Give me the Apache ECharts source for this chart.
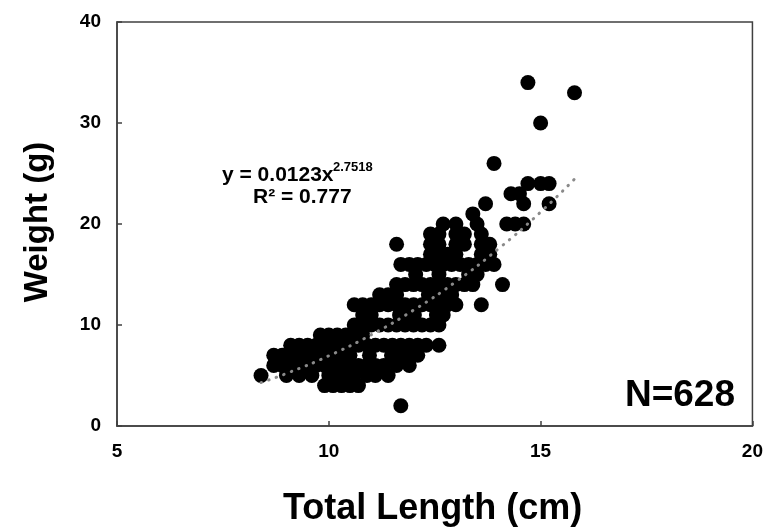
<!DOCTYPE html>
<html><head><meta charset="utf-8">
<script src="https://cdn.jsdelivr.net/npm/echarts@6/dist/echarts.min.js"></script>
<style>html,body{margin:0;padding:0;background:#fff}#c{width:766px;height:532px}</style>
</head><body><div id="c"></div>
<script>
// Lengths (cm) observed at each weight (g)
const w2 = [11.7];
const w4 = [9.9, 10.1, 10.3, 10.5, 10.7];
const w5 = [8.4, 9.0, 9.3, 9.6, 10.0, 10.3, 10.6, 10.9, 11.1, 11.4];
const w6 = [8.7, 8.9, 9.1, 9.3, 9.5, 9.7, 9.9, 10.1, 10.3, 10.5, 10.7, 10.9, 11.1, 11.3, 11.6, 11.9];
const w7 = [8.7, 8.9, 9.1, 9.3, 9.5, 9.7, 9.9, 10.1, 10.3, 10.5, 10.96, 11.48, 11.7, 11.9, 12.1];
const w8 = [9.1, 9.3, 9.5, 9.7, 9.9, 10.1, 10.3, 10.5, 10.7, 10.9, 11.1, 11.3, 11.5, 11.7, 11.9, 12.1, 12.3, 12.6];
const w9 = [9.8, 10.0, 10.2, 10.4, 10.6, 10.8];
const w10 = [10.6, 10.8, 11.0, 11.2, 11.4, 11.6, 11.8, 12.0, 12.2, 12.4, 12.6];
const w11 = [10.8, 11.0, 11.67, 11.85, 12.02, 12.54, 12.7];
const w12 = [10.6, 10.8, 11.0, 11.2, 11.4, 11.6, 11.8, 12.0, 12.2, 12.4, 12.6, 12.8, 13.0, 13.6];
const w13 = [11.2, 11.4, 11.6, 12.35, 12.6, 12.9];
const w14 = [11.6, 11.8, 12.0, 12.2, 12.4, 12.6, 12.8, 13.0, 13.2, 13.4, 14.1];
const w15 = [12.05, 12.6, 13.3, 13.5];
const w16 = [11.7, 11.9, 12.1, 12.3, 12.5, 12.7, 12.9, 13.1, 13.3, 13.5, 13.7, 13.9];
const w17 = [12.4, 12.6, 12.8, 13.0, 13.6, 13.8];
const w18 = [11.6, 12.4, 12.6, 13.0, 13.2, 13.6, 13.8];
const w19 = [12.4, 12.6, 13.0, 13.2, 13.6];
const w20 = [12.7, 13.0, 13.5, 14.2, 14.4, 14.6];
const w21 = [13.4];
const w22 = [13.7, 14.6, 15.2];
const w23 = [14.3, 14.5];
const w24 = [14.7, 15.0, 15.2];
const w26 = [13.9];
const w30 = [15.0];
const w33 = [15.8];
const w34 = [14.7];

// Power trend line (y = 0.0123x^2.7518)
const trendX = [8.4, 9, 10, 11, 12, 13, 14, 15, 15.8];
const trendY = [4.30, 5.20, 6.95, 9.03, 11.47, 14.29, 17.53, 21.18, 24.45];

const xTicks = [5, 10, 15, 20];
const yTicks = [0, 10, 20, 30, 40];

const groups = [[2,w2],[4,w4],[5,w5],[6,w6],[7,w7],[8,w8],[9,w9],[10,w10],[11,w11],[12,w12],
  [13,w13],[14,w14],[15,w15],[16,w16],[17,w17],[18,w18],[19,w19],[20,w20],[21,w21],[22,w22],
  [23,w23],[24,w24],[26,w26],[30,w30],[33,w33],[34,w34]];
const pts = [];
groups.forEach(([w, xs]) => xs.forEach(x => pts.push([x, w])));
const trend = trendX.map((x, i) => [x, trendY[i]]);

const FF = '"Liberation Sans", Arial, sans-serif';
const chart = echarts.init(document.getElementById('c'), null, {renderer: 'canvas'});
chart.setOption({
  animation: false,
  backgroundColor: '#fff',
  grid: {left: 117, right: 13, top: 22, bottom: 106, show: true, borderColor: '#404040', borderWidth: 1.5},
  xAxis: {
    type: 'value', min: xTicks[0], max: xTicks[xTicks.length-1], interval: 5,
    axisLine: {show: true, lineStyle: {color: '#404040', width: 1.5}},
    axisTick: {show: true, inside: true, length: 5, lineStyle: {color: '#404040', width: 1.5}},
    splitLine: {show: false},
    axisLabel: {color: '#000', fontFamily: FF, fontWeight: 'bold', fontSize: 19, margin: 16}
  },
  yAxis: {
    type: 'value', min: yTicks[0], max: yTicks[yTicks.length-1], interval: 10,
    axisLine: {show: true, lineStyle: {color: '#404040', width: 1.5}},
    axisTick: {show: true, inside: true, length: 5, lineStyle: {color: '#404040', width: 1.5}},
    splitLine: {show: false},
    axisLabel: {color: '#000', fontFamily: FF, fontWeight: 'bold', fontSize: 19, margin: 16}
  },
  series: [
    {type: 'scatter', data: pts, symbol: 'circle', symbolSize: 15, z: 2,
     itemStyle: {color: '#000', opacity: 1}, emphasis: {disabled: true}},
    {type: 'line', data: trend, smooth: true, showSymbol: false, z: 3,
     lineStyle: {color: '#8a8a8a', width: 3, type: [0.5, 7.5], cap: 'round'}}
  ],
  graphic: [
    {type: 'text', left: 222, top: 165, style: {text: 'y = 0.0123x', font: 'bold 21px ' + FF, fill: '#000'}},
    {type: 'text', left: 333, top: 161, style: {text: '2.7518', font: 'bold 13px ' + FF, fill: '#000'}},
    {type: 'text', left: 253, top: 187, style: {text: 'R² = 0.777', font: 'bold 21px ' + FF, fill: '#000'}},
    {type: 'text', right: 31, top: 377, style: {text: 'N=628', font: 'bold 37px ' + FF, fill: '#000'}},
    {type: 'text', left: 283, top: 491, style: {text: 'Total Length (cm)', font: 'bold 36px ' + FF, fill: '#000'}},
    {type: 'text', x: 38, y: 222, rotation: Math.PI/2,
     style: {text: 'Weight (g)', font: 'bold 33px ' + FF, fill: '#000', align: 'center', verticalAlign: 'middle'}}
  ]
});
</script></body></html>
